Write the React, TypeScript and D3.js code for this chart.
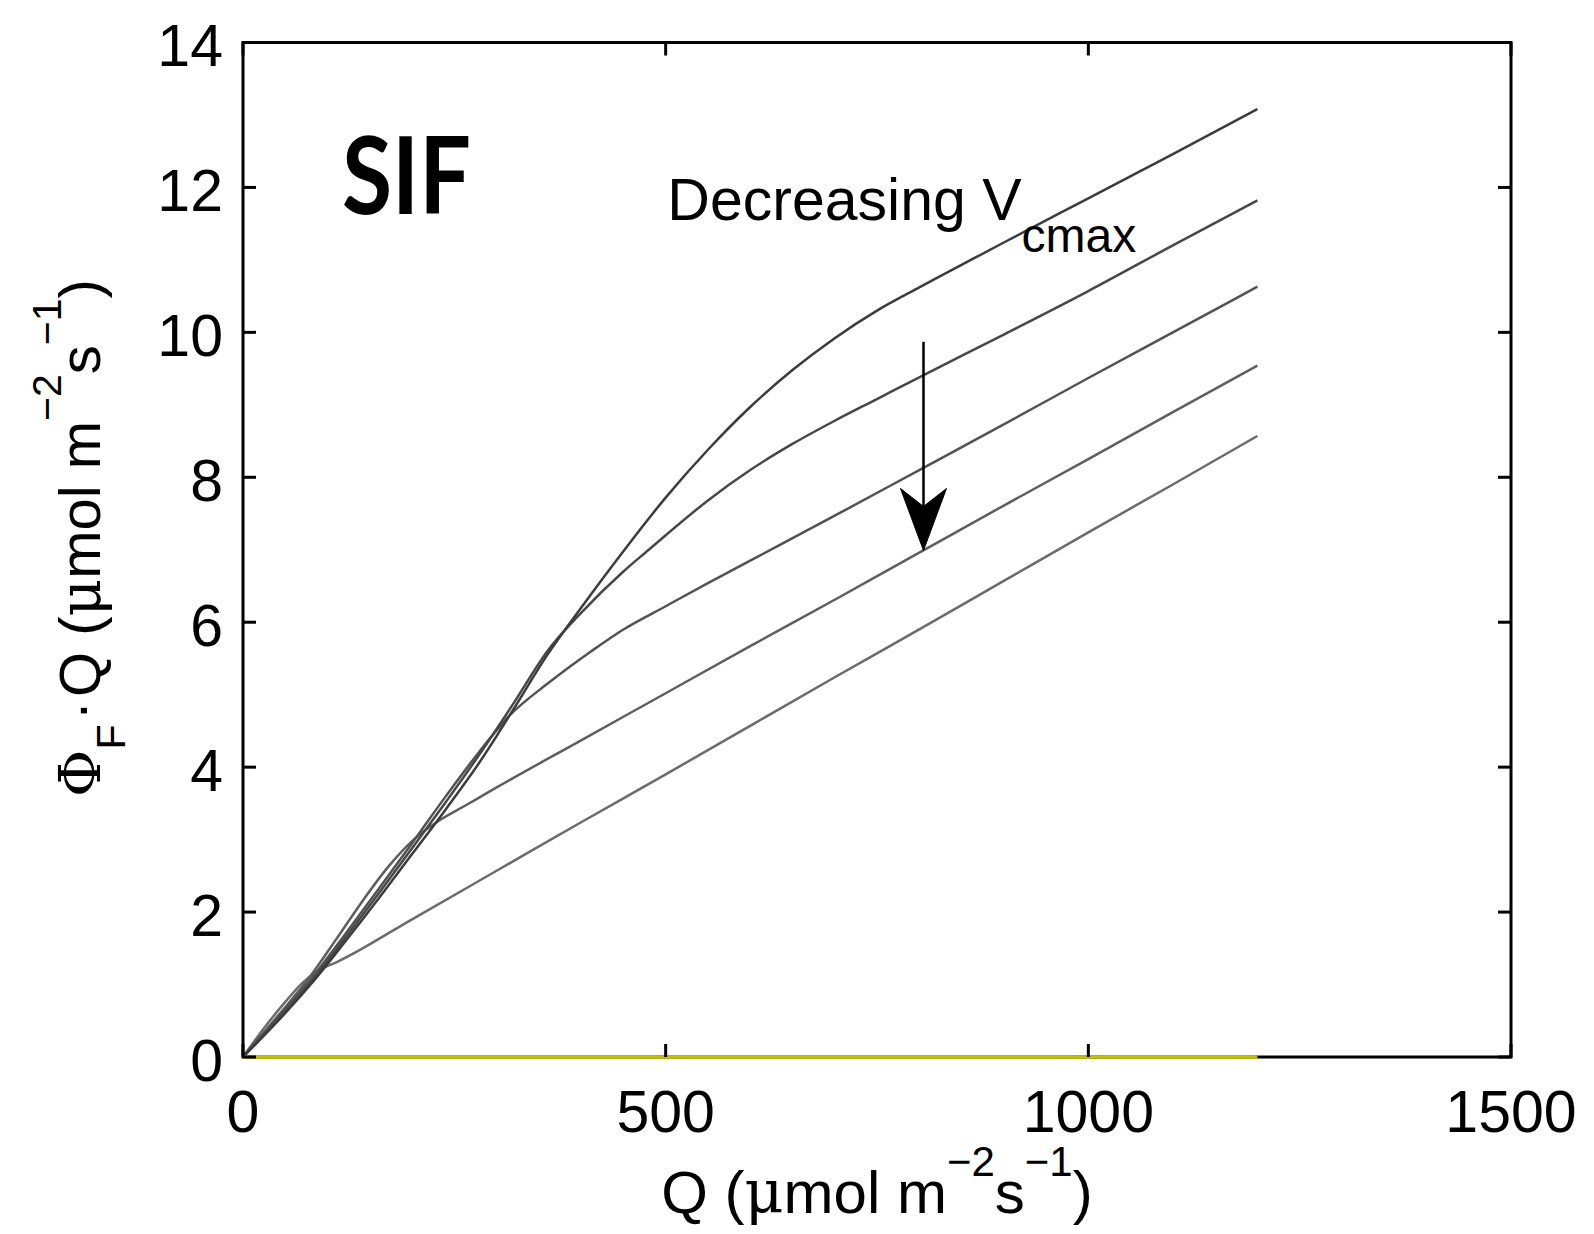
import React from 'react';
import * as d3 from 'd3';

// ---- data ----
const xTicks = [0, 500, 1000, 1500];
const yTicks = [0, 2, 4, 6, 8, 10, 12, 14];

// Phi_F * Q vs Q for decreasing Vcmax (series1 = highest Vcmax)
const series1: [number, number][] = [
  [0, 0], [40, 0.48], [80, 1.0], [120, 1.58], [160, 2.18], [200, 2.8], [240, 3.42], [280, 4.07],
  [320, 4.8], [360, 5.55], [400, 6.2], [450, 6.98], [500, 7.72], [550, 8.38], [600, 8.97],
  [650, 9.48], [700, 9.92], [750, 10.3], [800, 10.62], [850, 10.93], [900, 11.24], [1000, 11.85],
  [1100, 12.46], [1200, 13.08],
];
const series2: [number, number][] = [
  [0, 0], [40, 0.5], [80, 1.03], [120, 1.63], [160, 2.25], [200, 2.88], [240, 3.52], [280, 4.18],
  [320, 4.88], [360, 5.6], [400, 6.13], [450, 6.7], [480, 7.0], [500, 7.2], [550, 7.68], [600, 8.1],
  [650, 8.46], [700, 8.78], [750, 9.08], [800, 9.38], [900, 9.97], [1000, 10.57], [1100, 11.2], [1200, 11.82],
];
const series3: [number, number][] = [
  [0, 0], [40, 0.53], [80, 1.07], [120, 1.68], [160, 2.31], [200, 2.95], [240, 3.6], [280, 4.22],
  [316, 4.72], [360, 5.15], [412, 5.6], [450, 5.9], [500, 6.22], [550, 6.54], [600, 6.85], [700, 7.47],
  [800, 8.1], [900, 8.73], [1000, 9.37], [1100, 10.0], [1200, 10.63],
];
const series4: [number, number][] = [
  [0, 0], [40, 0.55], [80, 1.12], [110, 1.62], [140, 2.13], [170, 2.6], [200, 2.98], [233, 3.27],
  [260, 3.45], [300, 3.72], [400, 4.37], [500, 5.02], [600, 5.67], [700, 6.31], [800, 6.96],
  [900, 7.61], [1000, 8.25], [1100, 8.9], [1200, 9.54],
];
const series5: [number, number][] = [
  [0, 0], [25, 0.4], [50, 0.76], [70, 1.02], [90, 1.2], [111, 1.31], [200, 1.9], [300, 2.57],
  [400, 3.24], [500, 3.9], [600, 4.57], [700, 5.24], [800, 5.9], [900, 6.57], [1000, 7.24],
  [1100, 7.9], [1200, 8.57],
];
const seriesList = [series5, series4, series3, series2, series1];
const seriesColors = ['#6b6b6b', '#5e5e5e', '#525252', '#474747', '#3c3c3c'];

// zero line (yellow)
const zeroLine: [number, number][] = [[0, 0], [1200, 0]];

// annotation positions in data units
const sifLabelPos: [number, number] = [117, 11.64];
const decreasingLabelPos: [number, number] = [502, 11.545];
const arrowQ = 805;
const arrowFromV = 9.87;
const arrowToV = 6.99;

const SANS = '"Liberation Sans", Arial, Helvetica, sans-serif';
const SERIF = '"DejaVu Serif", "Liberation Serif", serif';

export default function App() {
  const W = 1594;
  const H = 1234;
  const x = d3.scaleLinear().domain([0, 1500]).range([243, 1511]);
  const y = d3.scaleLinear().domain([0, 14]).range([1057, 42.5]);
  const line = d3
    .line<[number, number]>()
    .x((d) => x(d[0]))
    .y((d) => y(d[1]))
    .curve(d3.curveMonotoneX);

  const x0 = x(0), x1 = x(1500), yb = y(0), yt = y(14);
  const tickLen = 13;
  const tickFs = 59;

  const ax = x(arrowQ);
  const aTop = y(arrowFromV);
  const aTip = y(arrowToV);

  return (
    <svg
      width={W}
      height={H}
      style={{ position: 'absolute', left: 0, top: 0, background: '#fff' }}
      xmlns="http://www.w3.org/2000/svg"
    >
      <rect x={0} y={0} width={W} height={H} fill="#fff" />

      {/* curves */}
      {seriesList.map((s, i) => (
        <path key={i} d={line(s) || ''} fill="none" stroke={seriesColors[i]} strokeWidth={2.5} strokeLinejoin="round" />
      ))}

      {/* axes box */}
      <rect x={x0} y={yt} width={x1 - x0} height={yb - yt} fill="none" stroke="#000" strokeWidth={3} />

      {/* zero line */}
      <path d={line(zeroLine) || ''} stroke="#c0c000" strokeWidth={3.5} fill="none" />

      {/* x ticks */}
      {xTicks.map((t) => (
        <g key={'xt' + t}>
          <line x1={x(t)} x2={x(t)} y1={yb} y2={yb - tickLen} stroke="#000" strokeWidth={3} />
          <line x1={x(t)} x2={x(t)} y1={yt} y2={yt + tickLen} stroke="#000" strokeWidth={3} />
          <text x={x(t)} y={yb + 75} textAnchor="middle" fontFamily={SANS} fontSize={tickFs} fill="#000">
            {t}
          </text>
        </g>
      ))}

      {/* y ticks */}
      {yTicks.map((t) => (
        <g key={'yt' + t}>
          <line x1={x0} x2={x0 + tickLen} y1={y(t)} y2={y(t)} stroke="#000" strokeWidth={3} />
          <line x1={x1} x2={x1 - tickLen} y1={y(t)} y2={y(t)} stroke="#000" strokeWidth={3} />
          <text x={x0 - 20} y={y(t) + 23.5} textAnchor="end" fontFamily={SANS} fontSize={tickFs} fill="#000">
            {t}
          </text>
        </g>
      ))}

      {/* SIF label */}
      <text
        x={x(sifLabelPos[0])}
        y={y(sifLabelPos[1])}
        fontFamily='"Lato", "Open Sans", sans-serif'
        fontWeight={700}
        fontSize={108}
        textLength={129}
        lengthAdjust="spacingAndGlyphs"
        fill="#000"
      >
        SIF
      </text>

      {/* Decreasing Vcmax */}
      <text x={x(decreasingLabelPos[0])} y={y(decreasingLabelPos[1])} fontFamily={SANS} fontSize={59} fill="#000">
        Decreasing V
        <tspan fontSize={48} dy={32}>cmax</tspan>
      </text>

      {/* arrow */}
      <line x1={ax} x2={ax} y1={aTop} y2={aTip - 40} stroke="#000" strokeWidth={2.5} />
      <path
        d={`M${ax},${aTip} L${ax - 23},${aTip - 62} L${ax},${aTip - 44} L${ax + 23},${aTip - 62} Z`}
        fill="#000"
        stroke="#000"
        strokeWidth={1}
        strokeLinejoin="miter"
      />

      {/* x label */}
      <text x={(x0 + x1) / 2} y={1213} textAnchor="middle" fontFamily={SANS} fontSize={60} fill="#000">
        Q (<tspan fontFamily={SERIF}>μ</tspan>mol m
        <tspan fontSize={42} dy={-37}>−2</tspan>
        <tspan dy={37}>s</tspan>
        <tspan fontSize={42} dy={-37}>−1</tspan>
        <tspan dy={37}>)</tspan>
      </text>

      {/* y label */}
      <text
        transform={`translate(100, 538) rotate(-90)`}
        textAnchor="middle"
        fontFamily={SANS}
        fontSize={58}
        fill="#000"
      >
        <tspan fontFamily={SERIF}>Φ</tspan>
        <tspan fontSize={41} dy={25}>F</tspan>
        <tspan dy={-25} dx={4}>·</tspan>
        <tspan dx={4}>Q (</tspan>
        <tspan fontFamily={SERIF}>μ</tspan>
        <tspan>mol m</tspan>
        <tspan fontSize={41} dy={-39}>−2</tspan>
        <tspan dy={39}>s</tspan>
        <tspan fontSize={41} dy={-39}>−1</tspan>
        <tspan dy={39}>)</tspan>
      </text>
    </svg>
  );
}
